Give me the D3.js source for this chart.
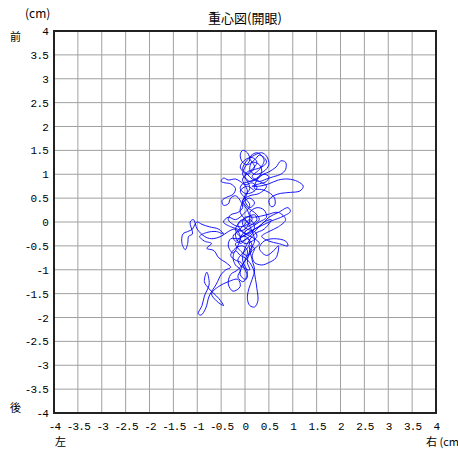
<!DOCTYPE html>
<html><head><meta charset="utf-8">
<script src="https://cdn.jsdelivr.net/npm/d3@7"></script>
<style>
body{margin:0;background:#fff;}
svg{display:block;}
.tick text{font-family:"Liberation Mono",monospace;font-size:11px;letter-spacing:-0.8px;fill:#000;}
.jp{font-family:"Noto Sans CJK JP",sans-serif;fill:#000;}
</style>
</head><body>
<svg id="c" width="458" height="449"></svg>
<script>
const title = "重心図(開眼)";
const xTicks = [-4,-3.5,-3,-2.5,-2,-1.5,-1,-0.5,0,0.5,1,1.5,2,2.5,3,3.5,4];
const yTicks = [-4,-3.5,-3,-2.5,-2,-1.5,-1,-0.5,0,0.5,1,1.5,2,2.5,3,3.5,4];
// 重心動揺軌跡 (x: 左右 cm, y: 前後 cm)
const pathX = [0.05,0.15,0.25,0.2,0.05,-0.1,-0.2,-0.1,0.05,0.2,0.35,0.5,0.7,0.9,0.95,0.8,0.55,0.3,0.1,-0.05,-0.2,-0.25,-0.15,0.0,
0.1,0.05,-0.05,0.0,0.1,0.05,-0.05,0.0,0.1,0.05,-0.05,-0.1,-0.05,0.05,0.2,0.3,0.4,0.45,0.35,0.2,0.05,0.0,0.1,0.25,0.4,0.5,0.45,0.3,0.15,
0.3,0.5,0.7,0.9,1.1,1.22,1.15,0.95,0.75,0.6,0.5,0.55,0.62,0.62,0.5,0.35,0.2,
0.3,0.5,0.65,0.75,0.85,0.85,0.75,0.6,0.45,0.3,0.15,0.05,
-0.05,0.05,0.2,0.35,0.45,0.5,0.38,0.2,0.1,0.15,0.3,0.35,0.25,0.1,-0.05,-0.1,0.0,0.15,0.25,0.15,0.0,
-0.1,-0.2,-0.35,-0.45,-0.5,-0.42,-0.3,-0.2,-0.25,-0.38,-0.48,-0.45,-0.35,-0.3,-0.2,-0.1,-0.05,-0.15,-0.3,-0.35,-0.25,
-0.1,0.05,0.15,0.1,0.25,0.4,0.45,0.3,0.15,0.0,-0.1,0.0,0.15,0.25,0.2,0.05,-0.05,0.0,
0.2,0.45,0.7,0.85,0.7,0.5,0.35,0.5,0.7,0.9,0.85,0.6,0.4,0.3,0.45,0.6,0.7,0.65,0.5,0.35,0.2,0.15,0.2,0.1,
0.15,0.2,0.15,0.08,0.05,0.1,0.2,0.27,0.25,0.22,0.18,0.1,0.0,
-0.1,-0.2,-0.25,-0.2,-0.1,-0.15,-0.05,0.05,0.0,-0.08,-0.2,-0.3,-0.2,-0.05,0.05,0.0,
-0.15,-0.3,-0.35,-0.25,-0.1,-0.15,-0.35,-0.55,-0.7,-0.6,-0.45,-0.55,-0.75,-0.85,-0.8,-0.75,-0.85,-0.9,-0.98,-0.92,-0.82,-0.75,-0.6,-0.5,-0.4,-0.3,
-0.4,-0.55,-0.65,-0.8,-0.7,-0.85,-0.95,-0.8,-0.6,-0.45,-0.55,-0.75,-0.9,-1.0,-1.05,-1.1,-1.2,-1.3,-1.32,-1.25,-1.2,-1.18,-1.1,-1.15,-1.08,-1.0,-0.85,-0.7,-0.5,-0.35,-0.2,
-0.1,-0.15,-0.25,-0.35,-0.3,-0.15,0.0,0.1,0.05,-0.05,-0.15,-0.05,0.1,0.05,
0.1,0.2,0.15,0.05,-0.1,-0.05,0.1,0.2,0.1,0.0,0.05,-0.05,0.1,0.25,0.15,0.0,
-0.1,0.05,0.2,0.1,0.25,0.4,0.3,0.15,0.3,0.45,0.3,0.1,-0.05,0.05,0.2,0.3,0.15,-0.05,-0.15,-0.05,0.1,0.2,0.1,-0.05,-0.2,-0.1,0.05,0.15,0.05,-0.1,-0.2,-0.05,0.1,0.25,0.4,0.55,0.4,0.2,0.0,-0.05,0.05,0.0,-0.1,-0.05,0.05,0.15,0.3,0.2,0.0,-0.15,-0.3,-0.45,-0.35,-0.2,-0.05,0.1,0.0,-0.1,0.05,0.2];
const pathY = [-0.1,-0.05,0.05,0.15,0.1,0.0,-0.15,-0.3,-0.25,-0.15,-0.05,0.1,0.2,0.3,0.22,0.12,0.02,-0.1,-0.2,-0.3,-0.4,-0.3,-0.2,-0.15,
0.05,0.25,0.4,0.55,0.7,0.85,1.0,1.15,1.3,1.45,1.5,1.4,1.25,1.2,1.3,1.4,1.35,1.25,1.15,1.1,1.05,0.95,0.85,0.9,1.0,0.95,0.85,0.8,0.75,
0.75,0.8,0.88,0.9,0.85,0.75,0.65,0.62,0.6,0.55,0.45,0.32,0.35,0.5,0.62,0.68,0.7,
0.95,1.05,1.15,1.28,1.25,1.1,1.0,0.95,0.9,0.85,0.9,1.0,
1.1,1.3,1.4,1.45,1.38,1.2,1.05,1.0,1.1,1.25,1.2,1.05,0.92,0.85,0.8,0.7,0.6,0.62,0.72,0.82,0.78,
0.85,0.9,0.88,0.92,0.85,0.82,0.8,0.7,0.58,0.52,0.45,0.35,0.38,0.5,0.55,0.45,0.3,0.2,0.15,0.05,-0.05,
-0.1,-0.05,0.05,0.2,0.3,0.25,0.1,0.0,-0.1,-0.2,-0.35,-0.45,-0.4,-0.3,-0.2,-0.15,-0.05,0.1,
0.1,0.15,0.2,0.05,-0.1,-0.2,-0.3,-0.4,-0.45,-0.5,-0.4,-0.35,-0.4,-0.55,-0.7,-0.6,-0.5,-0.75,-0.85,-0.9,-0.85,-0.7,-0.55,-0.5,
-0.8,-1.0,-1.2,-1.4,-1.6,-1.75,-1.78,-1.65,-1.4,-1.2,-1.0,-0.85,-0.75,
-0.7,-0.6,-0.75,-0.9,-1.0,-1.15,-1.25,-1.15,-1.0,-0.85,-0.8,-0.7,-0.55,-0.5,-0.6,-0.8,
-1.0,-1.1,-1.3,-1.45,-1.35,-1.2,-1.25,-1.35,-1.5,-1.65,-1.75,-1.6,-1.4,-1.25,-1.05,-1.3,-1.55,-1.75,-1.92,-1.95,-1.8,-1.55,-1.3,-1.1,-1.0,-0.95,
-0.85,-0.75,-0.6,-0.55,-0.45,-0.4,-0.3,-0.22,-0.2,-0.25,-0.15,-0.1,-0.05,0.0,-0.05,-0.15,-0.2,-0.25,-0.45,-0.58,-0.45,-0.3,-0.25,0.0,0.05,-0.15,-0.3,-0.35,-0.3,-0.2,-0.15,
-0.3,-0.5,-0.65,-0.5,-0.35,-0.35,-0.3,-0.4,-0.55,-0.65,-0.8,-0.95,-1.0,-0.85,
-0.6,-0.4,-0.2,0.0,0.2,0.4,0.5,0.4,0.3,0.45,0.65,0.9,1.05,1.25,1.35,1.3,
1.15,1.0,1.15,1.35,1.45,1.3,1.1,0.95,0.85,0.75,0.6,0.55,0.45,0.3,0.2,0.05,-0.05,0.05,-0.05,-0.2,-0.25,-0.1,0.05,-0.1,-0.25,-0.45,-0.35,-0.5,-0.7,-0.6,-0.45,-0.4,-0.3,-0.15,0.0,0.05,-0.15,-0.25,-0.55,-0.8,-1.05,-1.2,-1.1,-0.9,-0.75,-0.6,-0.45,-0.35,-0.25,-0.15,-0.1,0.0,0.1,0.05,0.15,0.35,0.5,0.65,0.75,0.65];

const svg = d3.select("#c");
const L=54, R=436, T=31, B=413;
const x = d3.scaleLinear().domain([-4,4]).range([L,R]);
const y = d3.scaleLinear().domain([-4,4]).range([B,T]);

// grid
svg.append("g").selectAll("line").data(xTicks).join("line")
  .attr("x1",d=>x(d)).attr("x2",d=>x(d)).attr("y1",T).attr("y2",B)
  .attr("stroke","#a0a0a0").attr("stroke-width",1);
svg.append("g").selectAll("line").data(yTicks).join("line")
  .attr("y1",d=>y(d)).attr("y2",d=>y(d)).attr("x1",L).attr("x2",R)
  .attr("stroke","#a0a0a0").attr("stroke-width",1);

// axes labels
const ax = svg.append("g").attr("transform",`translate(0,${B})`)
  .call(d3.axisBottom(x).tickValues(xTicks).tickSize(0).tickPadding(9).tickFormat(d=>String(d)));
ax.select(".domain").remove();
const ay = svg.append("g").attr("transform",`translate(${L},0)`)
  .call(d3.axisLeft(y).tickValues(yTicks).tickSize(0).tickPadding(6).tickFormat(d=>String(d)));
ay.select(".domain").remove();

// trajectory
const pts = pathX.map((v,i)=>[v,pathY[i]]);
svg.append("path").datum(pts)
  .attr("fill","none").attr("stroke","#0000ff").attr("stroke-width",0.9)
  .attr("d", d3.line().x(d=>x(d[0])).y(d=>y(d[1])).curve(d3.curveCatmullRom.alpha(0.5)));

// frame
svg.append("rect").attr("x",L).attr("y",T).attr("width",R-L).attr("height",B-T)
  .attr("fill","none").attr("stroke","#222").attr("stroke-width",2);

// texts
svg.append("text").attr("class","jp").attr("x",245).attr("y",23).attr("text-anchor","middle")
  .attr("font-size",13).text(title);
svg.append("text").attr("class","jp").attr("x",25).attr("y",18).attr("font-size",12).text("(cm)");
svg.append("text").attr("class","jp").attr("x",10).attr("y",41).attr("font-size",11).text("前");
svg.append("text").attr("class","jp").attr("x",10).attr("y",412).attr("font-size",11).text("後");
svg.append("text").attr("class","jp").attr("x",55).attr("y",446).attr("font-size",11).text("左");
svg.append("text").attr("class","jp").attr("x",426).attr("y",446).attr("font-size",11).text("右 (cm)");
</script>
</body></html>
